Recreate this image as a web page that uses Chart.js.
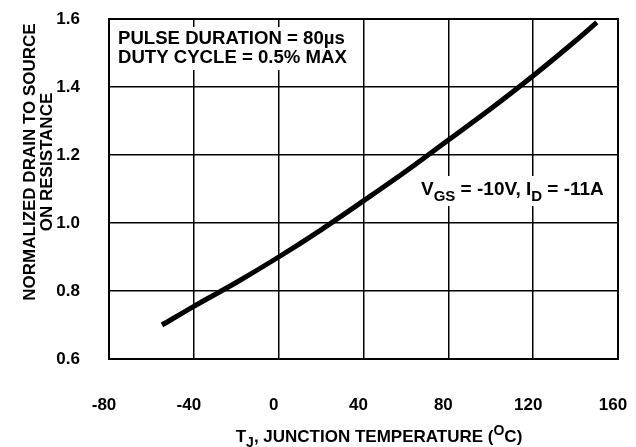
<!DOCTYPE html>
<html>
<head>
<meta charset="utf-8">
<script src="https://cdn.jsdelivr.net/npm/chart.js@4.4.0/dist/chart.umd.min.js"></script>
<style>
  html, body { margin: 0; padding: 0; background: #fff; }
  #chart { display: block; }
</style>
</head>
<body>
<canvas id="chart" width="636" height="447"></canvas>
<script>
// junction temperature (C) vs normalized rds(on)
const temps = [-55, -40, -20, 0, 20, 40, 60, 80, 100, 120, 140, 150];
const rdsOn = [0.70, 0.755, 0.825, 0.90, 0.98, 1.065, 1.152, 1.244, 1.336, 1.433, 1.536, 1.59];
const xTicks = [-80, -40, 0, 40, 80, 120, 160];
const yTicks = [0.6, 0.8, 1.0, 1.2, 1.4, 1.6];

const FONT = '"Liberation Sans", Arial, Helvetica, sans-serif';

// draws text made of parts: [text, 0 normal | 1 sub | 2 sup]
function drawParts(ctx, parts, x, y, size, align) {
  const small = Math.round(size * 0.8);
  let total = 0;
  parts.forEach(p => {
    ctx.font = 'bold ' + (p[1] ? small : size) + 'px ' + FONT;
    total += ctx.measureText(p[0]).width;
  });
  let cx = align === 'center' ? x - total / 2 : x;
  ctx.textAlign = 'left';
  ctx.textBaseline = 'alphabetic';
  parts.forEach(p => {
    ctx.font = 'bold ' + (p[1] ? small : size) + 'px ' + FONT;
    let dy = 0;
    if (p[1] === 1) dy = size * 0.3;
    if (p[1] === 2) dy = -size * 0.4;
    ctx.fillText(p[0], cx, y + dy);
    cx += ctx.measureText(p[0]).width;
  });
}

// keep the axes from adding label overhang to the layout
function noPadding(scale) {
  scale.paddingLeft = 0;
  scale.paddingRight = 0;
  scale.paddingTop = 0;
  scale.paddingBottom = 0;
}

const labelsPlugin = {
  id: 'labels',
  beforeDatasetsDraw(chart) {
    const ctx = chart.ctx;
    ctx.save();
    ctx.fillStyle = '#fff';
    ctx.fillRect(112, 27, 244, 43);
    ctx.fillRect(416, 176, 196, 30);
    ctx.restore();
  },
  afterDatasetsDraw(chart) {
    const ctx = chart.ctx;
    const a = chart.chartArea;
    ctx.save();
    ctx.strokeStyle = '#000';
    ctx.lineWidth = 2;
    ctx.strokeRect(a.left, a.top, a.right - a.left, a.bottom - a.top);

    ctx.fillStyle = '#000';
    drawParts(ctx, [['PULSE DURATION = 80\u00b5s', 0]], 118, 44, 18.6);
    drawParts(ctx, [['DUTY CYCLE = 0.5% MAX', 0]], 118, 63, 18.6);
    drawParts(ctx, [['V', 0], ['GS', 1], [' = -10V, I', 0], ['D', 1], [' = -11A', 0]], 421, 195, 19);

    // x axis title
    drawParts(ctx, [['T', 0], ['J', 1], [', JUNCTION TEMPERATURE (', 0], ['O', 2], ['C)', 0]], 379, 442, 17, 'center');

    // y axis title, two lines rotated
    ctx.translate(0, 162);
    ctx.rotate(-Math.PI / 2);
    ctx.font = 'bold 17px ' + FONT;
    ctx.textAlign = 'center';
    ctx.textBaseline = 'middle';
    ctx.fillText('NORMALIZED DRAIN TO SOURCE', 0, 30);
    ctx.fillText('ON RESISTANCE', 0, 47);
    ctx.restore();
  }
};

new Chart(document.getElementById('chart'), {
  type: 'line',
  data: {
    datasets: [{
      data: temps.map((t, i) => ({ x: t, y: rdsOn[i] })),
      borderColor: '#000',
      borderWidth: 5,
      borderCapStyle: 'butt',
      cubicInterpolationMode: 'monotone',
      pointRadius: 0,
      fill: false
    }]
  },
  options: {
    responsive: false,
    animation: false,
    layout: {
      padding: { left: 0, right: 18, top: 19, bottom: 0 }
    },
    scales: {
      x: {
        type: 'linear',
        min: -80,
        max: 160,
        afterBuildTicks: (scale) => {
          scale.ticks = xTicks.map(v => ({ value: v }));
        },
        afterFit: (scale) => {
          scale.height = 88;
          noPadding(scale);
        },
        ticks: {
          color: '#000',
          padding: 36,
          labelOffset: -5,
          maxRotation: 0,
          font: { family: FONT, size: 17, weight: 'bold' },
          callback: (v) => String(v)
        },
        grid: {
          color: '#000',
          lineWidth: 1.5,
          drawTicks: false
        },
        border: { display: false }
      },
      y: {
        min: 0.6,
        max: 1.6,
        afterBuildTicks: (scale) => {
          scale.ticks = yTicks.map(v => ({ value: v }));
        },
        afterFit: (scale) => {
          scale.width = 109;
          noPadding(scale);
        },
        ticks: {
          color: '#000',
          padding: 29,
          font: { family: FONT, size: 17, weight: 'bold' },
          callback: (v) => Number(v).toFixed(1)
        },
        grid: {
          color: '#000',
          lineWidth: 1.5,
          drawTicks: false
        },
        border: { display: false }
      }
    },
    plugins: {
      legend: { display: false },
      tooltip: { enabled: false }
    }
  },
  plugins: [labelsPlugin]
});
</script>
</body>
</html>
